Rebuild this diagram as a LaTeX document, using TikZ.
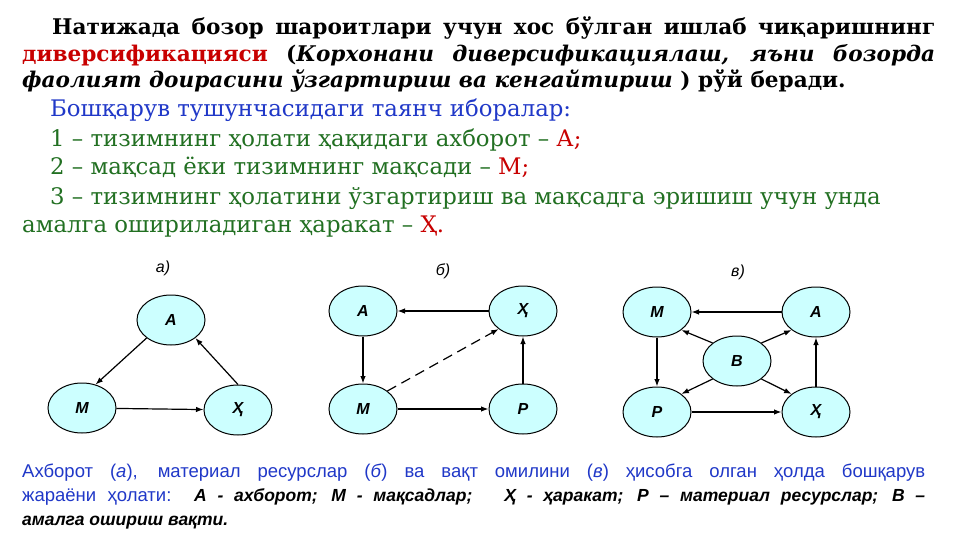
\documentclass[tikz,border=0pt]{standalone}
\usepackage{fontspec}
\setmainfont{DejaVu Serif}
\newfontfamily\sansf{Liberation Sans}
\usetikzlibrary{arrows.meta,shapes.geometric}
\definecolor{tblue}{RGB}{32,56,200}
\definecolor{tgreen}{RGB}{34,112,34}
\definecolor{tred}{RGB}{200,0,0}
\definecolor{nodefill}{RGB}{204,255,255}
\begin{document}
\begin{tikzpicture}[x=1pt,y=-1pt,
  st/.style={ellipse,draw=black,line width=1pt,fill=nodefill,minimum width=68pt,minimum height=50pt,inner sep=0pt,font=\sansf\bfseries\itshape\fontsize{16}{16}\selectfont},
  arr/.style={line width=1.2pt,-{Latex[length=7.5pt,width=5.5pt]}},
  toptxt/.style={anchor=base west,inner sep=0pt,font=\fontsize{21.6}{24}\selectfont\bfseries},
  midtxt/.style={anchor=base west,inner sep=0pt,font=\fontsize{22.8}{24}\selectfont},
  bottxt/.style={anchor=base west,inner sep=0pt,font=\sansf\fontsize{18.5}{19}\selectfont},
  bib/.style={text=black,font=\sansf\bfseries\itshape\fontsize{17.5}{18}\selectfont},
  lbl/.style={font=\sansf\itshape\fontsize{16}{16}\selectfont}]
\useasboundingbox (0,0) rectangle (961,540);
\fill[white] (0,0) rectangle (961,540);
% top paragraph
\node[toptxt] (t1) at (52,35) {\makebox[883pt][s]{Натижада бозор шароитлари учун хос бўлган ишлаб чиқаришнинг}};
\node[toptxt] (t2) at (22,62) {\makebox[913pt][s]{\textcolor{tred}{диверсификацияси} (\textit{Корхонани диверсификациялаш, яъни бозорда}}};
\node[toptxt] (t3) at (22,88) {\textit{фаолият доирасини ўзгартириш ва кенгайтириш} ) рўй беради.};
% key terms
\node[midtxt,text=tblue] (m0) at (50,117) {Бошқарув тушунчасидаги таянч иборалар:};
\node[midtxt,text=tgreen] (m1) at (50,147) {1 – тизимнинг ҳолати ҳақидаги ахборот – \textcolor{tred}{А;}};
\node[midtxt,text=tgreen] (m2) at (50,175) {2 – мақсад ёки тизимнинг мақсади – \textcolor{tred}{М;}};
\node[midtxt,text=tgreen] (m3) at (50,205) {3 – тизимнинг ҳолатини ўзгартириш ва мақсадга эришиш учун унда};
\node[midtxt,text=tgreen] (m4) at (22,233) {амалга ошириладиган ҳаракат – \textcolor{tred}{Ҳ.}};
% diagram a
\node[lbl] (la) at (163,268) {а)};
\node[st] (aA) at (171,320) {А};
\node[st] (aM) at (82,408) {М};
\node[st] (aX) at (238,410) {Ҳ};
\draw[arr] (aA.south west) -- (aM.60);
\draw[arr] (aM) -- (aX);
\draw[arr] (aX.north) -- (aA.south east);
% diagram b
\node[lbl] (lb) at (443,271) {б)};
\node[st] (bA) at (363,311) {А};
\node[st] (bX) at (523,311) {Ҳ};
\node[st] (bM) at (363,409) {М};
\node[st] (bP) at (523,409) {Р};
\draw[arr] (bX) -- (bA);
\draw[arr] (bA) -- (bM);
\draw[arr] (bM) -- (bP);
\draw[arr] (bP) -- (bX);
\draw[arr,dash pattern=on 10pt off 6pt] (bM.north east) -- (bX.south west);
% diagram c
\node[lbl] (lc) at (738,272) {в)};
\node[st] (cM) at (657,312) {М};
\node[st] (cA) at (816,312) {А};
\node[st] (cB) at (737,361) {В};
\node[st] (cP) at (657,412) {Р};
\node[st] (cX) at (816,412) {Ҳ};
\draw[arr] (cA) -- (cM);
\draw[arr] (cM) -- (cP);
\draw[arr] (cP) -- (cX);
\draw[arr] (cX) -- (cA);
\draw[arr] (cB.north west) -- (cM.south east);
\draw[arr] (cB.north east) -- (cA.south west);
\draw[arr] (cB.south west) -- (cP.north east);
\draw[arr] (cB.south east) -- (cX.north west);
% caption
\node[bottxt,text=tblue] (b1) at (22,477) {\makebox[903pt][s]{Ахборот (\textit{а}), материал ресурслар (\textit{б}) ва вақт омилини (\textit{в}) ҳисобга олган ҳолда бошқарув}};
\node[bottxt,text=tblue] (b2) at (22,501) {\makebox[903pt][s]{жараёни ҳолати:\ \ \textcolor{black}{\bfseries\itshape\fontsize{17.5}{18}\selectfont А - ахборот; М - мақсадлар;\hspace{32pt}Ҳ - ҳаракат; Р – материал ресурслар; В –}}};
\node[bottxt,bib] (b3) at (22,525) {амалга ошириш вақти.};
\end{tikzpicture}
\end{document}
